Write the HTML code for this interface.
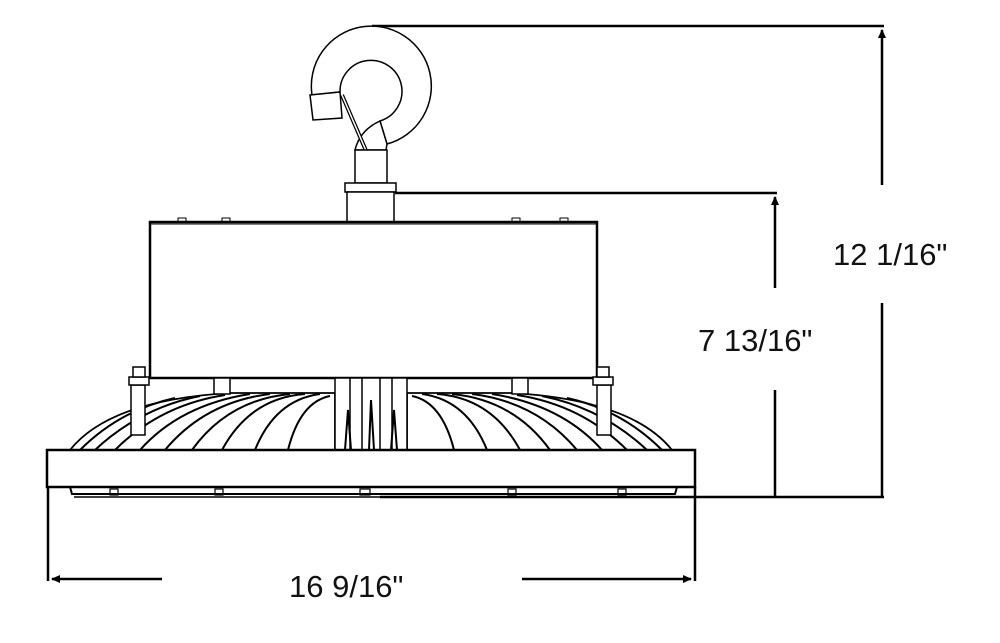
<!DOCTYPE html>
<html><head><meta charset="utf-8"><style>
html,body{margin:0;padding:0;background:#fff;}
svg{display:block;}
text{font-family:"Liberation Sans",sans-serif;font-size:31px;fill:#111;}
</style></head><body>
<svg width="1000" height="643" viewBox="0 0 1000 643" xmlns="http://www.w3.org/2000/svg">
<defs>
<marker id="a" markerWidth="10" markerHeight="10" refX="8" refY="5" orient="auto" markerUnits="userSpaceOnUse">
<path d="M0,1 L9,5 L0,9 Z" fill="#000"/></marker>
</defs>
<g stroke="#000" fill="none">
<!-- dimension lines -->
<line x1="372" y1="26" x2="884" y2="26" stroke-width="2.5"/>
<line x1="882" y1="185" x2="882" y2="30" stroke-width="2.5" marker-end="url(#a)"/>
<line x1="882" y1="303" x2="882" y2="497" stroke-width="2.5"/>
<line x1="395" y1="193" x2="777" y2="193" stroke-width="2.5"/>
<line x1="775" y1="288" x2="775" y2="197" stroke-width="2.5" marker-end="url(#a)"/>
<line x1="775" y1="390" x2="775" y2="497" stroke-width="2.5"/>
<line x1="380" y1="497" x2="884" y2="497" stroke-width="2.5"/>
<line x1="48" y1="487" x2="48" y2="581" stroke-width="2.5"/>
<line x1="695" y1="487" x2="695" y2="581" stroke-width="2.5"/>
<line x1="162" y1="579" x2="52" y2="579" stroke-width="2.5" marker-end="url(#a)"/>
<line x1="522" y1="579" x2="691" y2="579" stroke-width="2.5" marker-end="url(#a)"/>

<!-- hook -->
<g stroke-width="1.5">
<path d="M312,95 A60,60 0 1 1 387,144 L380,121 A31,31 0 1 0 340,92 Z" fill="#fff"/>
<path d="M310,95 L340,92 L342,118 L313,120 Z" fill="#fff"/>
<path d="M355,150 Q360,130 380,121 L387,144 L386,150 Z" fill="#fff"/>
<line x1="342" y1="95" x2="370" y2="160" stroke-width="4"/>
<line x1="342" y1="95" x2="370" y2="160" stroke="#fff" stroke-width="1.5"/>
<rect x="355" y="150" width="32" height="33" fill="#fff"/>
<rect x="345" y="183" width="51" height="9" fill="#fff"/>
<rect x="347" y="192" width="47" height="30" fill="#fff"/>
</g>

<!-- box -->
<rect x="150" y="222" width="447" height="156" stroke-width="2.5" fill="#fff"/>
<line x1="150" y1="224" x2="597" y2="224" stroke-width="1"/>
<rect x="178" y="218" width="8" height="4" stroke-width="1"/>
<rect x="222" y="218" width="8" height="4" stroke-width="1"/>
<rect x="512" y="218" width="8" height="4" stroke-width="1"/>
<rect x="560" y="218" width="8" height="4" stroke-width="1"/>

<!-- fins dome -->
<path d="M70,450 Q110,400 230,393 L335,393 L335,450 Z" stroke-width="1.8" fill="#fff"/>
<path d="M672,450 Q632,400 512,393 L407,393 L407,450 Z" stroke-width="1.8" fill="#fff"/>
<g stroke-width="2">
<path d="M80,450 Q120,410 175,398"/>
<path d="M95,450 Q140,408 200,396"/>
<path d="M115,450 Q160,405 225,395"/>
<path d="M140,450 Q180,405 250,394"/>
<path d="M165,450 Q205,402 270,394"/>
<path d="M192,450 Q228,400 290,394"/>
<path d="M222,450 Q250,398 305,394"/>
<path d="M255,450 Q275,400 320,394"/>
<path d="M288,450 Q300,402 330,396"/>
<path d="M662,450 Q622,410 567,398"/>
<path d="M647,450 Q602,408 542,396"/>
<path d="M627,450 Q582,405 517,395"/>
<path d="M602,450 Q562,405 492,394"/>
<path d="M577,450 Q537,402 472,394"/>
<path d="M550,450 Q514,400 452,394"/>
<path d="M520,450 Q492,398 437,394"/>
<path d="M487,450 Q467,400 422,394"/>
<path d="M454,450 Q442,402 412,396"/>
</g>
<!-- center column -->
<g stroke-width="1.5">
<rect x="335" y="378" width="72" height="72" fill="#fff"/>
<line x1="350" y1="378" x2="350" y2="450"/>
<line x1="362" y1="378" x2="362" y2="450"/>
<line x1="380" y1="378" x2="380" y2="450"/>
<line x1="392" y1="378" x2="392" y2="450"/>
<path d="M345,450 L348,410 L351,450" stroke-width="2"/>
<path d="M369,450 L371,400 L374,450" stroke-width="2"/>
<path d="M391,450 L394,410 L397,450" stroke-width="2"/>
<rect x="214" y="378" width="16" height="16" fill="#fff"/>
<rect x="512" y="378" width="16" height="16" fill="#fff"/>
</g>
<!-- posts -->
<g stroke-width="1.5" fill="#fff">
<rect x="131" y="385" width="14" height="50"/>
<rect x="129" y="377" width="20" height="8"/>
<rect x="133" y="367" width="12" height="10"/>
<rect x="597" y="385" width="14" height="50"/>
<rect x="593" y="377" width="20" height="8"/>
<rect x="597" y="367" width="12" height="10"/>
</g>
<!-- ring -->
<rect x="47" y="450" width="648" height="37" stroke-width="2.5" fill="#fff"/>
<path d="M70,487 L72,494 L675,494 L677,487" stroke-width="2"/>
<line x1="74" y1="497" x2="670" y2="497" stroke-width="1.5"/>
<g stroke-width="1.2">
<rect x="110" y="489" width="8" height="6"/><rect x="215" y="489" width="8" height="6"/>
<rect x="360" y="489" width="10" height="6"/><rect x="508" y="489" width="8" height="6"/>
<rect x="618" y="489" width="8" height="6"/>
</g>
</g>
<text x="833" y="265">12 1/16"</text>
<text x="698" y="351">7 13/16"</text>
<text x="289" y="597">16 9/16"</text>
</svg>
</body></html>
